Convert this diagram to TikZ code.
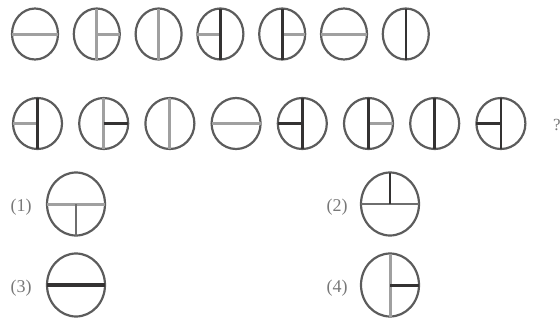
\documentclass[tikz,border=0pt]{standalone}
\usepackage{fontspec}
\setmainfont{Liberation Serif}
\usetikzlibrary{shapes.geometric, positioning}
\definecolor{ringgray}{RGB}{92,92,92}
\definecolor{barlight}{RGB}{160,160,160}
\definecolor{barmid}{RGB}{110,110,110}
\definecolor{bardark}{RGB}{52,50,50}
\definecolor{labelgray}{RGB}{120,120,120}
\tikzset{
  ring/.style={ellipse, draw=ringgray, line width=2.2pt, outer sep=0pt,
    inner sep=0pt, minimum width=46pt, minimum height=51pt},
  widering/.style={ring, minimum width=49pt},
  bigring/.style={ring, minimum width=58pt, minimum height=63pt},
  graybar/.style={draw=barlight, line width=3pt},
  midbar/.style={draw=barmid, line width=2.8pt},
  blackbar/.style={draw=bardark, line width=2.6pt},
  optlabel/.style={font=\fontsize{18}{18}\selectfont, text=labelgray}
}
\begin{document}
\begin{tikzpicture}[x=1pt, y=-1pt]
  \useasboundingbox (0,0) rectangle (560,322);

  % first row: seven rings
  \foreach \i in {1,...,7}
    \node[ring] (a\i) at ({35+61.8*(\i-1)}, 34) {};
  % second row: eight rings and the question mark
  \foreach \i in {1,...,8}
    \node[widering] (b\i) at ({37.5+66.2*(\i-1)}, 123.5) {};
  \node[font=\fontsize{17}{17}\selectfont, text=labelgray] (qm) at (557, 125) {?};

  % answer options
  \node[bigring] (o1) at (76, 204) {};
  \node[bigring] (o2) at (390, 204) {};
  \node[bigring] (o3) at (76, 285) {};
  \node[bigring] (o4) at (390, 285) {};
  \node[optlabel] (l1) at (21, 207) {(1)};
  \node[optlabel] (l2) at (337, 207) {(2)};
  \node[optlabel] (l3) at (21, 288) {(3)};
  \node[optlabel] (l4) at (337, 288) {(4)};

  % bars of the first row
  \draw[graybar] (a1.west) -- (a1.east);
  \draw[graybar] (a2.north) -- (a2.south);
  \draw[graybar] (a2.center) -- (a2.east);
  \draw[graybar] (a3.north) -- (a3.south);
  \draw[graybar] (a4.center) -- (a4.west);
  \draw[blackbar] (a4.north) -- (a4.south);
  \draw[graybar] (a5.center) -- (a5.east);
  \draw[blackbar] (a5.north) -- (a5.south);
  \draw[graybar] (a6.west) -- (a6.east);
  \draw[blackbar] (a7.north) -- (a7.south);

  % bars of the second row
  \draw[graybar] (b1.center) -- (b1.west);
  \draw[blackbar] (b1.north) -- (b1.south);
  \draw[graybar] (b2.north) -- (b2.south);
  \draw[blackbar] (b2.center) -- (b2.east);
  \draw[graybar] (b3.north) -- (b3.south);
  \draw[graybar] (b4.west) -- (b4.east);
  \draw[blackbar] (b5.north) -- (b5.south);
  \draw[blackbar] (b5.center) -- (b5.west);
  \draw[graybar] (b6.center) -- (b6.east);
  \draw[blackbar] (b6.north) -- (b6.south);
  \draw[blackbar] (b7.north) -- (b7.south);
  \draw[blackbar] (b8.north) -- (b8.south);
  \draw[blackbar] (b8.center) -- (b8.west);

  % bars of the options
  \draw[graybar] (o1.west) -- (o1.east);
  \draw[midbar] (o1.center) -- (o1.south);
  \draw[midbar] (o2.west) -- (o2.east);
  \draw[blackbar] (o2.center) -- (o2.north);
  \draw[blackbar, line width=3.2pt] (o3.west) -- (o3.east);
  \draw[graybar] (o4.north) -- (o4.south);
  \draw[blackbar, line width=3pt] (o4.center) -- (o4.east);
\end{tikzpicture}
\end{document}
